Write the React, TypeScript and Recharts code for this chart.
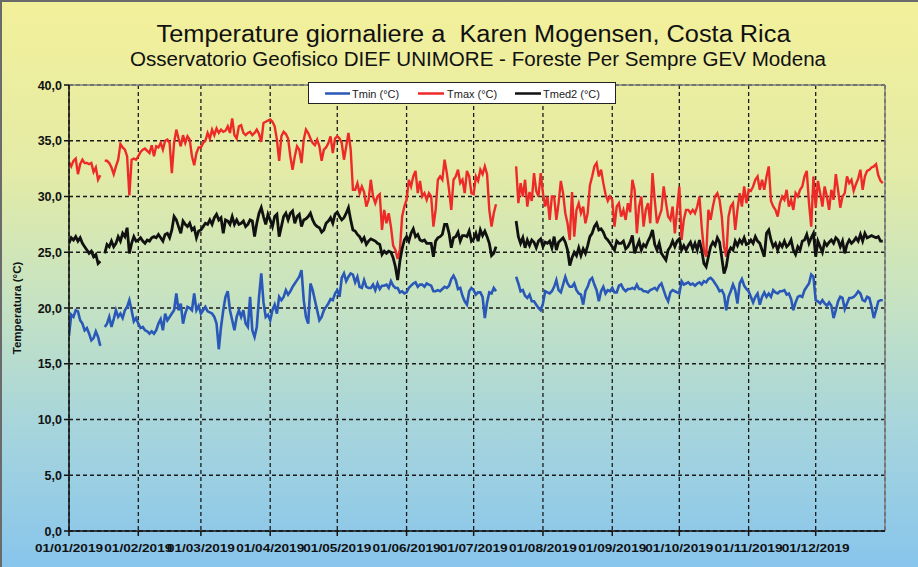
import React from 'react';
import { LineChart, Line, XAxis, YAxis, CartesianGrid, ReferenceLine } from 'recharts';

const TITLE = 'Temperature giornaliere a  Karen Mogensen, Costa Rica';
const SUBTITLE = 'Osservatorio Geofisico DIEF UNIMORE - Foreste Per Sempre GEV Modena';
const Y_LABEL = 'Temperatura (°C)';

const MONTH_LABELS = [
  '01/01/2019', '01/02/2019', '01/03/2019', '01/04/2019', '01/05/2019', '01/06/2019',
  '01/07/2019', '01/08/2019', '01/09/2019', '01/10/2019', '01/11/2019', '01/12/2019',
];
const MONTH_START_DAYS = [0, 31, 59, 90, 120, 151, 181, 212, 243, 273, 304, 334];
const Y_TICKS = [0, 5, 10, 15, 20, 25, 30, 35, 40];

const SERIES_NAMES = ['Tmin (°C)', 'Tmax (°C)', 'Tmed2 (°C)'];

// daily maximum temperature, 1 Jan .. 31 Dec 2019 (null = missing)
const TMAX: (number | null)[] = [
  // Jan
  33.1, 32.7, 33.2, 33.4, 32.0, 32.9, 33.3, 33.0, 33.0, 32.9, 33.0, 32.2, 32.6, 31.5, 31.9, null, 33.2, 33.2, 33.0, 32.6, 32.0, 32.7, 33.3, 34.7, 34.4, 34.2, 33.6, 30.1, 33.3, 33.4, 33.3,
  // Feb
  33.6, 34.0, 34.2, 34.3, 34.1, 33.9, 34.6, 33.6, 34.5, 34.4, 34.8, 34.2, 35.0, 35.1, 34.8, 32.1, 34.8, 36.0, 35.2, 34.5, 35.5, 34.8, 35.4, 35.1, 33.6, 32.8, 33.9, 34.4,
  // Mar
  34.4, 34.8, 35.0, 35.7, 35.2, 36.0, 35.5, 36.1, 35.7, 36.0, 35.8, 35.9, 36.3, 35.7, 37.0, 35.5, 35.2, 36.3, 36.4, 35.7, 35.5, 35.7, 35.8, 35.5, 35.7, 36.0, 35.6, 34.9, 36.6, 36.7, 36.8,
  // Apr
  36.9, 36.7, 36.3, 35.1, 33.2, 35.4, 35.8, 35.6, 35.2, 33.6, 32.4, 33.6, 34.5, 34.2, 33.0, 35.1, 36.0, 35.7, 35.2, 34.8, 34.6, 35.1, 34.5, 33.2, 34.2, 34.4, 34.8, 35.4, 33.9, 35.2,
  // May
  35.4, 35.2, 34.8, 33.3, 34.5, 35.7, 34.2, 30.6, 30.6, 31.2, 30.3, 30.9, 30.4, 29.1, 29.7, 31.5, 30.0, 29.4, 30.0, 30.2, 27.0, 28.8, 27.6, 28.5, 27.3, 25.6, 25.2, 24.4, 25.2, 28.2, 29.1,
  // Jun
  29.7, 31.5, 30.9, 31.8, 32.3, 30.3, 31.4, 30.0, 30.3, 29.7, 30.3, 30.0, 27.3, 28.8, 31.5, 31.8, 31.5, 33.3, 32.1, 30.6, 28.8, 31.5, 31.8, 32.4, 31.2, 31.5, 30.3, 32.3, 31.8, 30.3,
  // Jul
  30.2, 31.8, 31.4, 32.4, 32.0, 32.7, 32.0, 28.8, 27.3, 28.5, 29.3, null, null, null, null, null, null, null, null, 32.7, 29.4, 31.2, 30.0, 31.5, 29.1, 30.4, 29.6, 32.1, 30.5, 30.0, 32.1,
  // Aug
  30.3, 29.1, 30.0, 27.9, 30.0, 30.0, 27.9, 29.4, 31.4, 30.3, 28.5, 27.6, 26.1, 30.4, 26.4, 28.8, 29.4, 28.5, 29.1, 27.6, 28.5, 31.0, 31.8, 32.7, 33.0, 31.8, 32.4, 31.2, 30.2, 29.6, 30.0,
  // Sep
  29.7, 27.3, 29.1, 29.4, 28.2, 28.8, 27.9, 29.4, 28.6, 31.5, 30.6, 26.7, 29.1, 30.0, 27.3, 28.8, 29.4, 27.6, 32.1, 29.7, 27.6, 28.2, 28.8, 30.9, 29.5, 28.2, 27.9, 29.1, 26.7, 28.8,
  // Oct
  30.9, 26.1, 27.9, 28.8, 28.8, 28.5, 28.8, 28.5, 29.1, 30.0, 27.3, 25.2, 24.6, 28.8, 27.9, 29.1, 30.0, 30.3, 29.7, 28.2, 25.5, 24.6, 28.2, 29.1, 29.4, 27.0, 28.8, 30.3, 29.1, 30.9, 29.4,
  // Nov
  30.6, 30.5, 30.9, 31.5, 31.8, 30.6, 31.5, 30.6, 31.8, 32.7, 29.6, 29.1, 28.8, 28.2, 29.4, 30.0, 29.7, 30.6, 29.1, 29.7, 28.8, 30.3, 30.0, 30.6, 30.9, 31.8, 32.3, 29.4, 27.3, 31.8,
  // Dec
  29.0, 31.4, 30.3, 29.1, 30.9, 30.0, 28.8, 30.6, 29.7, 32.0, 30.6, 29.0, 30.0, 30.3, 31.8, 31.2, 31.5, 30.5, 31.1, 31.6, 32.4, 30.6, 31.8, 32.3, 32.4, 32.6, 32.7, 32.9, 31.9, 31.4, 31.2,
];

// daily mean temperature
const TMED2: (number | null)[] = [
  // Jan
  25.8, 26.3, 26.1, 26.4, 26.0, 26.3, 25.8, 25.5, 25.2, 24.9, 25.1, 24.6, 24.8, 24.0, 24.2, null, 24.9, 25.7, 25.5, 26.0, 25.5, 25.8, 26.4, 26.0, 26.7, 26.4, 27.2, 24.9, 25.8, 26.4, 26.0,
  // Feb
  26.1, 26.3, 26.0, 25.8, 26.1, 26.0, 26.3, 26.4, 26.3, 26.6, 26.3, 26.0, 26.6, 26.7, 26.3, 27.0, 28.2, 27.9, 27.3, 26.7, 27.8, 27.5, 27.3, 27.6, 27.0, 27.2, 26.3, 26.9,
  // Mar
  27.0, 27.3, 27.6, 27.5, 27.9, 27.5, 28.1, 28.4, 27.9, 28.1, 26.7, 27.9, 27.8, 27.5, 28.2, 27.5, 27.9, 27.5, 27.6, 27.8, 27.3, 27.5, 27.9, 27.8, 26.4, 27.6, 28.5, 29.0, 28.2, 27.5, 28.4,
  // Apr
  27.9, 27.3, 28.2, 28.4, 26.4, 27.3, 28.2, 28.5, 27.9, 28.5, 28.7, 27.6, 28.2, 28.4, 27.3, 27.9, 28.0, 28.2, 28.5, 27.9, 27.5, 27.3, 27.2, 26.8, 27.0, 27.6, 27.8, 28.1, 27.6, 28.4,
  // May
  28.6, 28.2, 27.9, 28.1, 28.5, 29.0, 27.9, 27.0, 26.9, 26.6, 26.4, 26.0, 26.3, 25.7, 26.0, 26.2, 26.1, 26.0, 25.8, 25.7, 24.8, 25.1, 24.9, 25.1, 25.0, 24.5, 23.7, 22.5, 24.2, 25.3, 26.1,
  // Jun
  26.4, 26.0, 26.7, 27.1, 26.4, 26.6, 26.1, 26.0, 26.1, 25.8, 25.8, 25.8, 24.6, 26.0, 26.3, 26.4, 26.6, 27.5, 27.5, 26.7, 25.4, 26.3, 26.4, 26.8, 26.0, 26.5, 26.5, 26.4, 26.9, 26.0,
  // Jul
  26.2, 26.7, 26.0, 27.0, 26.5, 26.9, 26.4, 25.8, 24.7, 24.9, 25.5, null, null, null, null, null, null, null, null, 27.8, 26.4, 25.8, 26.3, 25.4, 26.1, 25.6, 26.1, 25.9, 25.4, 26.0, 26.2,
  // Aug
  25.5, 25.9, 25.8, 26.0, 25.4, 26.4, 25.2, 25.9, 26.1, 26.3, 25.9, 25.2, 23.8, 24.5, 25.0, 24.7, 25.4, 24.7, 25.3, 24.9, 25.6, 26.4, 26.7, 27.3, 27.6, 27.0, 27.1, 26.8, 26.3, 26.1, 25.8,
  // Sep
  25.5, 25.2, 26.0, 25.8, 25.8, 26.0, 25.3, 25.5, 25.9, 26.5, 24.9, 25.5, 26.0, 25.2, 25.7, 25.5, 26.0, 26.4, 27.0, 25.7, 25.2, 25.8, 24.9, 24.6, 24.3, 25.2, 25.5, 26.0, 25.5, 26.0,
  // Oct
  26.2, 25.2, 25.6, 25.2, 25.6, 25.9, 25.3, 25.8, 25.2, 26.1, 25.2, 24.0, 23.7, 24.6, 25.5, 25.9, 25.6, 26.3, 25.9, 24.5, 23.1, 23.7, 25.0, 25.4, 25.2, 26.0, 25.6, 26.1, 25.8, 26.3, 25.7,
  // Nov
  25.8, 26.1, 25.8, 26.4, 26.0, 25.8, 25.2, 24.6, 26.7, 27.0, 26.1, 25.5, 25.8, 25.2, 25.8, 25.5, 26.0, 25.5, 25.7, 26.1, 25.2, 24.8, 25.5, 25.2, 26.0, 26.1, 26.6, 25.8, 26.3, 26.7,
  // Dec
  24.6, 26.0, 25.5, 25.0, 25.9, 25.6, 25.9, 26.1, 25.8, 26.3, 26.1, 25.5, 26.0, 24.9, 25.7, 26.1, 25.8, 26.0, 26.3, 26.0, 26.6, 26.0, 26.7, 26.3, 26.4, 26.5, 26.4, 26.3, 26.4, 26.0, 26.0,
];

// daily minimum temperature
const TMIN: (number | null)[] = [
  // Jan
  17.5, 19.4, 19.2, 19.8, 19.7, 18.9, 18.6, 18.0, 18.2, 17.7, 17.1, 17.3, 17.9, 17.4, 16.6, null, 18.3, 18.6, 19.2, 18.3, 19.0, 19.8, 19.2, 19.5, 19.1, 19.8, 20.1, 20.7, 19.8, 18.8, 19.1,
  // Feb
  18.6, 18.2, 18.3, 18.0, 17.9, 17.7, 17.9, 17.7, 18.0, 18.6, 19.0, 18.0, 19.5, 18.9, 19.2, 19.5, 19.8, 21.3, 19.8, 20.4, 18.6, 19.5, 20.1, 20.0, 19.8, 21.3, 19.8, 20.2,
  // Mar
  19.5, 19.8, 20.1, 19.7, 19.6, 19.5, 19.2, 18.6, 16.3, 18.3, 19.8, 21.0, 21.5, 19.8, 18.9, 18.0, 19.2, 19.8, 19.2, 19.8, 18.6, 18.3, 21.0, 18.0, 17.4, 18.3, 21.0, 23.1, 20.5, 19.2, 19.4,
  // Apr
  18.9, 19.8, 20.3, 19.5, 21.0, 20.7, 21.0, 21.6, 21.2, 21.5, 21.9, 22.2, 22.5, 22.8, 23.4, 20.7, 19.2, 18.6, 22.2, 21.6, 20.7, 19.8, 18.9, 19.2, 19.8, 20.1, 20.4, 20.8, 20.7, 21.3,
  // May
  21.6, 21.0, 22.7, 23.1, 22.4, 22.8, 23.1, 23.0, 22.3, 22.8, 21.9, 21.8, 22.5, 21.9, 21.8, 21.8, 22.1, 21.6, 22.2, 21.7, 22.0, 22.0, 22.1, 21.8, 22.4, 22.0, 21.8, 21.8, 21.4, 21.5, 21.3,
  // Jun
  21.4, 21.8, 22.0, 22.2, 22.3, 21.9, 22.1, 22.1, 21.9, 22.2, 22.1, 22.0, 21.5, 21.5, 21.6, 21.5, 21.7, 21.9, 21.8, 22.0, 22.6, 22.9, 22.5, 21.7, 21.8, 21.1, 20.6, 20.3, 21.5, 21.8,
  // Jul
  21.6, 21.2, 21.4, 21.4, 21.0, 19.1, 20.5, 21.4, 21.3, 21.8, 21.5, null, null, null, null, null, null, null, null, 22.8, 22.2, 21.5, 21.6, 21.1, 20.9, 21.2, 20.6, 20.6, 20.3, 20.0, 19.8,
  // Aug
  20.4, 21.5, 21.4, 21.3, 21.5, 21.9, 22.5, 21.6, 21.4, 22.1, 22.8, 22.2, 21.9, 21.9, 22.2, 21.6, 21.3, 21.2, 20.3, 21.5, 21.9, 22.5, 22.7, 22.1, 21.6, 20.6, 21.5, 21.9, 21.3, 21.6, 21.5,
  // Sep
  21.8, 21.4, 21.4, 22.0, 22.1, 21.7, 21.5, 21.7, 21.7, 21.8, 21.7, 22.1, 21.7, 21.7, 21.5, 21.5, 21.4, 21.6, 21.7, 21.8, 21.6, 22.0, 22.2, 21.6, 21.0, 20.6, 21.4, 21.6, 21.5, 21.4,
  // Oct
  21.3, 22.4, 22.1, 22.2, 22.3, 22.1, 22.2, 22.0, 22.2, 22.3, 22.1, 22.4, 22.3, 22.6, 22.7, 22.5, 22.2, 21.9, 21.5, 21.6, 21.2, 19.8, 21.0, 21.5, 22.1, 21.6, 20.4, 22.2, 22.6, 22.0, 21.7,
  // Nov
  21.5, 21.0, 20.5, 21.0, 21.3, 20.3, 21.0, 21.4, 21.0, 21.3, 21.0, 21.6, 21.4, 21.3, 21.5, 21.5, 21.6, 21.2, 21.3, 20.8, 19.8, 20.5, 21.0, 21.1, 21.0, 21.6, 21.9, 22.2, 23.0, 22.8,
  // Dec
  20.7, 20.6, 20.4, 20.7, 20.4, 20.2, 20.5, 20.2, 19.1, 19.8, 20.6, 21.0, 20.9, 19.9, 20.4, 20.9, 20.9, 21.0, 21.2, 21.5, 21.3, 20.7, 20.6, 21.0, 20.9, 20.1, 19.1, 19.8, 20.6, 20.7, 20.7,
];

const data = TMIN.map((v, i) => ({ day: i, tmin: v, tmax: TMAX[i], tmed: TMED2[i] }));

const COLORS = { tmin: '#2a58b8', tmax: '#ee2a28', tmed: '#111111' };
const FONT = '"Liberation Sans", Arial, Helvetica, sans-serif';

const XTick = (props: any) => {
  const { x, payload } = props;
  const idx = MONTH_START_DAYS.indexOf(payload.value);
  return (
    <text x={x} y={552} textAnchor="middle" fontFamily={FONT} fontWeight="bold" fontSize={11.5}
      textLength={68} lengthAdjust="spacingAndGlyphs" fill="#111">
      {MONTH_LABELS[idx]}
    </text>
  );
};

const YTick = (props: any) => {
  const { y, payload } = props;
  return (
    <text x={62} y={y + 4.5} textAnchor="end" fontFamily={FONT} fontWeight="bold" fontSize={12.5} fill="#111">
      {payload.value.toFixed(1).replace('.', ',')}
    </text>
  );
};

export default function App() {
  return (
    <div
      style={{
        position: 'fixed', left: 0, top: 0, width: 918, height: 567, overflow: 'hidden',
        background: 'linear-gradient(180deg, #f3f09a 0%, #e3eba6 30%, #c7e3c1 52%, #a7d5dc 75%, #88c5ec 100%)',
        boxSizing: 'border-box', borderTop: '2px solid #6a6a6a', borderLeft: '2px solid #6a6a6a',
      }}
    >
      <div style={{ position: 'absolute', left: -2, top: -2 }}>
        <LineChart width={918} height={567} data={data} margin={{ top: 85, right: 33, bottom: 0, left: 0 }}>
          <CartesianGrid stroke="#1a1a1a" strokeDasharray="4 3" strokeWidth={1.3} />
          <XAxis
            type="number" dataKey="day" domain={[0, 365]} ticks={MONTH_START_DAYS} interval={0}
            height={36} tick={<XTick />} tickSize={5} stroke="#111" strokeWidth={1.5}
            allowDataOverflow
          />
          <YAxis
            type="number" domain={[0, 40]} ticks={Y_TICKS} interval={0} width={69}
            tick={<YTick />} tickSize={5} stroke="#111" strokeWidth={1.5}
          />
          <ReferenceLine y={40} stroke="#808080" strokeWidth={1.5} />
          <ReferenceLine x={365} stroke="#808080" strokeWidth={1.5} />
          <Line type="linear" dataKey="tmin" stroke={COLORS.tmin} strokeWidth={2.6} dot={false} activeDot={false} isAnimationActive={false} />
          <Line type="linear" dataKey="tmax" stroke={COLORS.tmax} strokeWidth={2.4} dot={false} activeDot={false} isAnimationActive={false} />
          <Line type="linear" dataKey="tmed" stroke={COLORS.tmed} strokeWidth={2.8} dot={false} activeDot={false} isAnimationActive={false} />
        </LineChart>
        <svg width={918} height={567} style={{ position: 'absolute', left: 0, top: 0, pointerEvents: 'none' }}>
          <text x={473.5} y={42} textAnchor="middle" fontFamily={FONT} fontSize={23.5} fill="#111"
            textLength={634} lengthAdjust="spacingAndGlyphs" xmlSpace="preserve" style={{ whiteSpace: 'pre' }}>{TITLE}</text>
          <text x={478} y={66} textAnchor="middle" fontFamily={FONT} fontSize={19.5} fill="#111"
            textLength={696} lengthAdjust="spacingAndGlyphs">{SUBTITLE}</text>
          <text transform="translate(21,308) rotate(-90)" textAnchor="middle" fontFamily={FONT}
            fontWeight="bold" fontSize={11.5} fill="#111">{Y_LABEL}</text>
          <rect x={308.5} y={82.5} width={307} height={21} fill="#ffffff" stroke="#222" strokeWidth={1} />
          <line x1={325} x2={350} y1={93.5} y2={93.5} stroke={COLORS.tmin} strokeWidth={2.5} />
          <text x={352} y={97.5} fontFamily={FONT} fontSize={11} fill="#222">{SERIES_NAMES[0]}</text>
          <line x1={418} x2={444} y1={93.5} y2={93.5} stroke={COLORS.tmax} strokeWidth={2.5} />
          <text x={447} y={97.5} fontFamily={FONT} fontSize={11} fill="#222">{SERIES_NAMES[1]}</text>
          <line x1={515} x2={541} y1={93.5} y2={93.5} stroke={COLORS.tmed} strokeWidth={2.5} />
          <text x={543} y={97.5} fontFamily={FONT} fontSize={11} fill="#222">{SERIES_NAMES[2]}</text>
        </svg>
      </div>
    </div>
  );
}
